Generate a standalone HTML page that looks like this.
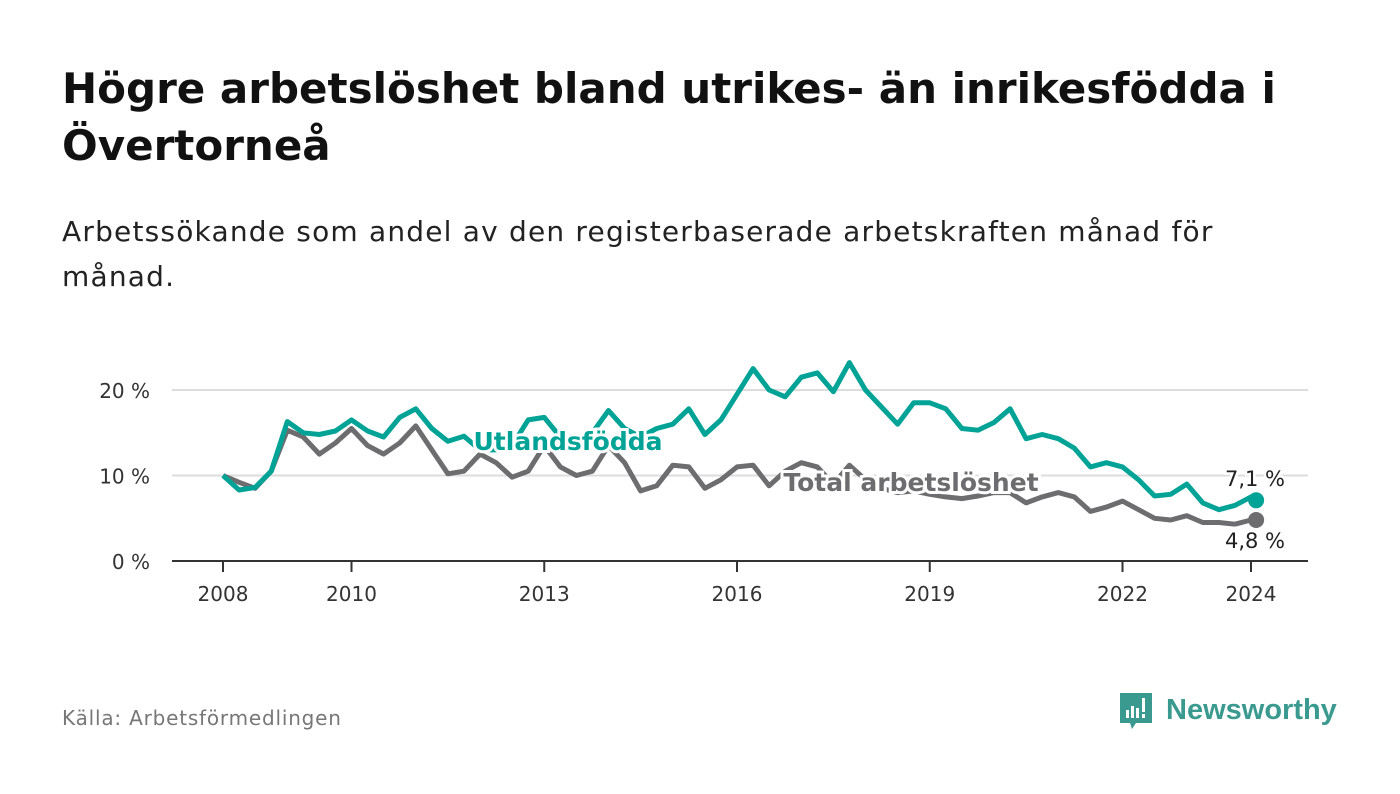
<!DOCTYPE html>
<html><head><meta charset="utf-8"><style>
body{margin:0;width:1400px;height:794px;background:#fff;font-family:"DejaVu Sans","Liberation Sans",sans-serif;overflow:hidden;position:relative}
h1{position:absolute;left:62px;top:60px;margin:0;font-size:42px;line-height:57px;font-weight:bold;color:#111;width:1330px;font-family:"DejaVu Sans","Liberation Sans",sans-serif}
.sub{position:absolute;left:62px;top:209px;font-size:28px;letter-spacing:1.2px;line-height:45px;color:#222;width:1320px}
.src{position:absolute;left:62px;top:706px;font-size:20px;letter-spacing:0.8px;color:#777}
</style></head><body>
<h1>Högre arbetslöshet bland utrikes- än inrikesfödda i<br>Övertorneå</h1>
<div class="sub">Arbetssökande som andel av den registerbaserade arbetskraften månad för<br>månad.</div>
<div class="src">Källa: Arbetsförmedlingen</div>
<svg style="position:absolute;left:1118px;top:690px" width="230" height="50">
<path d="M2 3h32v30H18l-4 6-2-6H2z" fill="#3a9a90"/>
<rect x="8" y="20" width="3" height="8" fill="#fff"/><rect x="13" y="16" width="3" height="12" fill="#fff"/><rect x="18" y="18" width="3" height="10" fill="#fff"/><rect x="24" y="8" width="3" height="14" fill="#fff"/><rect x="24" y="24" width="3" height="4" fill="#fff"/>
<text x="48" y="29" font-size="29" font-weight="bold" fill="#3a9a90" font-family="Liberation Sans, sans-serif">Newsworthy</text>
</svg>
<svg id="chart" style="position:absolute;left:0;top:0" width="1400" height="794"></svg>
<script>
const years=[2008,2010,2013,2016,2019,2022,2024];
const yTicks=[0,10,20];
const utland=[10.0,8.3,8.6,10.5,16.3,15.0,14.8,15.2,16.5,15.2,14.5,16.8,17.8,15.5,14.0,14.6,13.0,13.0,13.5,16.5,16.8,14.5,14.0,15.0,17.6,15.5,14.5,15.5,16.0,17.8,14.8,16.5,19.5,22.5,20.0,19.2,21.5,22.0,19.8,23.2,20.0,18.0,16.0,18.5,18.5,17.8,15.5,15.3,16.2,17.8,14.3,14.8,14.3,13.2,11.0,11.5,11.0,9.5,7.6,7.8,9.0,6.8,6.0,6.5,7.5,7.1];
const total=[10.0,9.2,8.5,10.5,15.3,14.5,12.5,13.8,15.5,13.5,12.5,13.8,15.8,13.0,10.2,10.5,12.5,11.5,9.8,10.5,13.5,11.0,10.0,10.5,13.5,11.5,8.2,8.8,11.2,11.0,8.5,9.5,11.0,11.2,8.8,10.5,11.5,11.0,9.0,11.2,9.5,8.5,8.0,8.2,7.8,7.5,7.3,7.6,8.0,8.0,6.8,7.5,8.0,7.5,5.8,6.3,7.0,6.0,5.0,4.8,5.3,4.5,4.5,4.3,4.8,4.8];
const times=utland.map((v,i)=>i<utland.length-1?2008+i/4:2024.08);
const X=t=>223+64.25*(t-2008), Y=v=>561-8.55*v;
const svg=document.getElementById('chart'),NS='http://www.w3.org/2000/svg';
function mk(tag,attrs,txt){const e=document.createElementNS(NS,tag);for(const k in attrs)e.setAttribute(k,attrs[k]);if(txt!=null)e.textContent=txt;svg.appendChild(e);return e;}
yTicks.forEach(v=>{
 if(v>0){const g=mk('line',{x1:172,x2:1308,y1:Y(v),y2:Y(v),stroke:'#ddd','stroke-width':2});
 
 }
 const t=mk('text',{x:150,y:Y(v)+8,'text-anchor':'end','font-size':20,fill:'#333'},v+' %');
 
 
});
const ax=mk('line',{x1:172,x2:1308,y1:561,y2:561,stroke:'#333','stroke-width':2});


years.forEach(y=>{
 const tk=mk('line',{x1:X(y),x2:X(y),y1:561,y2:572,stroke:'#333','stroke-width':2});
 
 
 const t=mk('text',{x:X(y),y:601,'text-anchor':'middle','font-size':20,fill:'#333'},y);
 
 
});
function line(data,col,name){
 const d=data.map((v,i)=>(i?'L':'M')+X(times[i]).toFixed(1)+' '+Y(v).toFixed(1)).join(' ');
 const p=mk('path',{d:d,fill:'none',stroke:col,'stroke-width':5,'stroke-linejoin':'round'});
 
 
 const c=mk('circle',{cx:X(times[times.length-1]),cy:Y(data[data.length-1]),r:8,fill:col});
 
 
}
line(total,'#6d6d70','total');
line(utland,'#00a396','utland');
const l1=mk('text',{x:568,y:450,'text-anchor':'middle','font-size':25,'font-weight':'bold',fill:'#00a396',stroke:'#fff','stroke-width':6,'paint-order':'stroke'},'Utlandsfödda');


const l2=mk('text',{x:911,y:491,'text-anchor':'middle','font-size':25,'font-weight':'bold',fill:'#6d6d70',stroke:'#fff','stroke-width':6,'paint-order':'stroke'},'Total arbetslöshet');


const v1=mk('text',{x:1255,y:486,'text-anchor':'middle','font-size':21,fill:'#222',stroke:'#fff','stroke-width':5,'paint-order':'stroke'},'7,1 %');


const v2=mk('text',{x:1255,y:548,'text-anchor':'middle','font-size':21,fill:'#222',stroke:'#fff','stroke-width':5,'paint-order':'stroke'},'4,8 %');


</script>
</body></html>
